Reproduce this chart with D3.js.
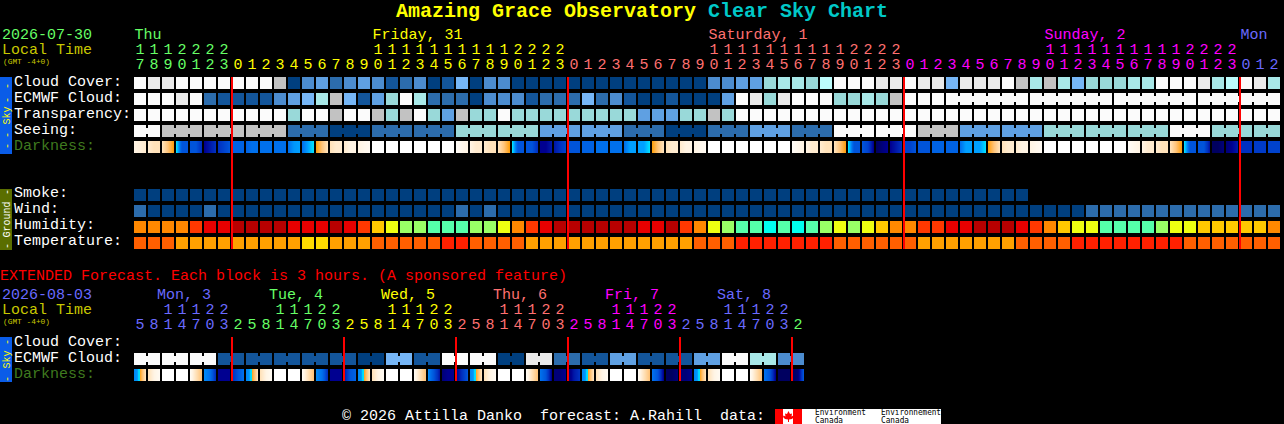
<!DOCTYPE html>
<html>
<head>
<meta charset="utf-8">
<script src="https://cdn.jsdelivr.net/npm/d3@7"></script>
<style>
  html, body { margin: 0; padding: 0; background: #000; overflow: hidden; }
  svg { display: block; }
  text { font-family: "Liberation Mono", monospace; font-size: 15px; white-space: pre; }
  .tile { shape-rendering: crispEdges; }
</style>
</head>
<body>
<script>
// hours across the top, 82 one hour columns then 48 three hour columns
const hours = [17,18,19,20,21,22,23,
  0,1,2,3,4,5,6,7,8,9,10,11,12,13,14,15,16,17,18,19,20,21,22,23,
  0,1,2,3,4,5,6,7,8,9,10,11,12,13,14,15,16,17,18,19,20,21,22,23,
  0,1,2,3,4,5,6,7,8,9,10,11,12,13,14,15,16,17,18,19,20,21,22,23,
  0,1,2];
const extHours = [5,8,11,14,17,20,23,
  2,5,8,11,14,17,20,23, 2,5,8,11,14,17,20,23, 2,5,8,11,14,17,20,23,
  2,5,8,11,14,17,20,23, 2,5,8,11,14,17,20,23, 2];
const dayLabels = ['Thu', 'Friday, 31', 'Saturday, 1', 'Sunday, 2', 'Mon'];
const dayStartCols = [0, 17, 41, 65, 79];
const dayBreakCols = [7, 31, 55, 79];
const extDayLabels = ['Mon, 3', 'Tue, 4', 'Wed, 5', 'Thu, 6', 'Fri, 7', 'Sat, 8'];
const extDayBreakCols = [0, 7, 15, 23, 31, 39, 47];
const extMidnightCols = [7, 15, 23, 31, 39, 47];
const dayColors = ['#66ff66', '#ffff00', '#ff7070', '#ff00ff', '#6a6aff'];
const extDayColors = ['#6a6aff', '#66ff66', '#ffff00', '#ff7070', '#ff00ff', '#6a6aff', '#66ff66'];

// cloud type rows use one 12 step colour key
const cloudKey = ['#003f7f', '#13559a', '#2c6cac', '#4c8ccf', '#5fa0e2', '#76b6f6',
  '#99d9d9', '#a8e8e8', '#bcfcfc', '#c2c2c2', '#eaeaea', '#fbfbfb'];
const humidityKey = ['#b80000', '#e80000', '#ff3800', '#ff8800', '#ffc800', '#eeff11', '#99ff66', '#55ffaa', '#00ffee'];
const temperatureKey = ['#ff2000', '#ff5f00', '#ffa000', '#ffdc00'];

const cloudCover = [11,10,10,11,11,11,11,11,11,11,9,0,3,4,2,3,4,3,1,2,3,0,1,5,0,3,3,
  0,0,0,0,0,0,0,0,0,0,0,0,0,0,3,3,4,4,6,7,7,6,8,11,11,11,10,10,11,10,10,5,10,10,10,11,
  9,7,9,7,5,6,6,6,7,7,11,11,11,10,7,8,11,10,7];
const ecmwfCloud = [11,11,11,10,11,2,1,1,1,1,3,4,5,7,9,5,1,4,6,11,7,2,2,2,0,3,3,3,1,2,2,2,5,2,3,1,
  0,0,1,0,0,0,4,11,10,6,10,11,11,11,6,6,7,6,9,
  11,11,11,11,11,11,11,11,11,11,11,11,11,11,11,11,11,11,11,11,11,11,11,11,11,11,11];
const transparency = [11,11,11,11,11,11,11,11,11,11,11,6,11,11,9,11,11,9,6,9,11,6,4,9,6,6,11,
  6,6,6,6,6,6,6,6,6,4,4,4,6,6,9,6,
  11,11,11,11,11,11,11,11,11,11,11,11,11,11,11,11,11,11,11,11,11,11,11,11,11,11,11,11,11,11,11,11,11,11,11,11,11,11,11];
const seeingBlocks = [11,9,9,9,2,0,2,2,6,6,4,4,2,0,2,4,2,11,11,9,4,4,6,6,6,11,6,6];
const seeingSizes = [2,3,3,3,3,3,3,3,3,3,3,3,3,3,3,3,3,3,3,3,3,3,3,3,3,3,3,2];
const ecmwfJoinSizes = [58,6,6,6,6];  // 58 is unjoined, see drawRow
const smoke = [0,0,0,0,0,0,0,0,0,0,0,0,0,0,0,0,0,0,0,0,0,0,0,0,0,0,0,0,0,0,0,0,
  0,0,0,0,0,0,0,0,0,0,0,0,0,0,0,0,0,0,0,0,0,0,0,0,0,0,0,0,0,0,0,0];
const wind = [2,0,0,0,0,2,0,0,0,0,0,0,0,0,0,0,0,0,0,0,0,0,0,2,0,2,0,0,0,0,0,0,0,0,0,0,0,0,0,0,
  0,0,0,0,0,0,0,0,0,0,0,0,0,0,0,0,0,0,0,0,0,0,0,0,0,0,0,0,
  2,2,2,2,2,2,2,2,2,2,2,2,2,2];
const humidity = [3,3,3,3,2,1,1,0,0,0,0,1,1,1,0,1,2,4,5,6,6,7,7,7,6,6,5,3,2,1,0,0,0,0,0,0,1,1,0,2,3,
  5,6,7,7,8,7,8,7,6,5,6,5,4,3,3,2,2,1,1,0,0,0,1,2,3,4,5,5,7,7,7,7,6,5,5,4,4,4,4,4,3];
const temperature = [1,1,1,2,2,2,2,2,2,2,2,2,3,3,2,2,2,1,1,1,1,1,0,0,1,1,1,1,2,2,2,2,2,2,2,2,2,2,2,2,
  1,1,1,0,0,0,0,0,0,0,1,1,1,1,1,1,2,2,2,2,2,2,2,1,1,1,1,0,0,0,0,0,0,0,0,1,1,1,1,1,1,1];
const extCloudBlocks = [11,11,11,1,1,1,1,1,0,5,1,11,11,0,10,2,1,4,1,1,4,11,7,3];

// darkness: values spread evenly across each tile
// 0 daylight, 4 deep twilight, 5 sun is down, 11 darkest
const darkness = [[1,1.2,1.5],[1.5,2,2],[2,3,4],[5,8,8],[8,8,9],[10,9.5,9],[9,8.5,8],
  [7.5,7.5,7.5],[7.5,7,7],[7,7,7],[7,7,7],[7,6.2,6],[7,6,5],
  [4,3,2],[2,1.5,1.5],[1.5,1,1],[1,.7,.5],[0,0,0],[0,0,0],[0,0,0],[0,0,0],[0,0,0],[0,0,0],
  [.3,.7,1],[1,1.5,1.5],[1.5,2,2],[2,3,4],[5,8,8],[8,8,9],[10,10,9.5],[9.5,9,8.5],
  [8,8,8],[7.5,7.5,7.5],[7,7,7],[7,7,7],[7,6,6],[6,6,5],
  [4,3,2],[2,1.5,1.5],[1.5,1,1],[1,.7,.5],[0,0,0],[0,0,0],[0,0,0],[0,0,0],[0,0,0],[0,0,0],
  [.3,.7,1],[1,1.5,1.5],[1.5,2,2],[2,3,4],[5,8,8],[8,8.5,10],[11,10.5,10],[10,9.5,9],
  [8.5,8.5,8],[8,8,8],[7.5,7.5,7.5],[7.5,7.5,7.5],[7,6,6],[6,6,5],
  [4,3,2],[2,1.5,1.5],[1.5,1,1],[1,.7,.5],[0,0,0],[0,0,0],[0,0,0],[0,0,0],[0,0,0],[0,0,0],
  [.3,.7,1],[1,1.5,1.5],[1.5,2,2],[2,3,4],[5,8,8],[8,8,9.5],[11,11,10.5],[10.5,10,9.5],
  [9,9,9],[8.7,8.7,8.7],[8.5,8.5,8.5]];
const sunrise3h = [6.5,6.2,3.9,3,2];
const extDarkness = [sunrise3h,[2,1,.5],[0,0,0],[0,0,0],[.5,2,3],[6.5,7,9],[10,10,10],[9,8,7],
  sunrise3h,[2,1,.5],[0,0,0],[0,0,0],[.5,2,3],[6.5,7,9],[10,10,10],[9.5,8,7.5],
  sunrise3h,[2,1,.5],[0,0,0],[0,0,0],[.5,2,3],[6.5,8,9.5],[10.5,10,10],[10,9,8],
  sunrise3h,[2,1,.5],[0,0,0],[0,0,0],[.5,2,3],[7,8,10],[10.5,10.5,10],[10.5,9.5,9],
  sunrise3h,[2,1,.5],[0,0,0],[0,0,0],[.5,2,3],[7,8,10],[11,11,10.5],[10.5,10.5,10],
  sunrise3h,[2,1,.5],[0,0,0],[0,0,0],[.5,2,3],[7,8,10],[11,11,11],[11,10.5,8]];

const svg = d3.select('body').append('svg').attr('width', 1284).attr('height', 424);

const bandMain = d3.scaleBand().domain(d3.range(hours.length)).range([134, 1280]).paddingInner(1 / 7);
const bandExt = d3.scaleBand().domain(d3.range(extHours.length)).range([134, 804]).paddingInner(1 / 7);
// whole pixels, the band scale can land a hair under them
const xMain = (i) => Math.round(bandMain(i));
const xExt = (i) => Math.round(bandExt(i));
const darkColor = d3.scaleLinear()
    .domain([0, 1, 2, 3, 4, 4.001, 5, 6, 7, 8, 9, 10, 11])
    .range(['#ffffff', '#fff4e4', '#ffe2ba', '#ffc47a', '#ffa010', '#00e0ff', '#00e0ff',
      '#00a0ff', '#0070ec', '#0054da', '#0030c0', '#000090', '#000060']);

function expand(values, sizes) {
  return values.flatMap((v, i) => d3.range(sizes[i]).map(() => v));
}

function text(str, x, y, color, opts) {
  const t = svg.append('text').attr('x', x).attr('y', y).attr('fill', color).text(str);
  Object.entries(opts || {}).forEach(([k, v]) => t.attr(k, v));
  return t;
}

// a row of tiles, sizes says which neighbours are joined by a neck
function drawRow(x, y, values, key, sizes) {
  const g = svg.append('g').attr('class', 'tile');
  g.selectAll('rect').data(values).join('rect')
      .attr('x', (d, i) => x(i)).attr('y', y)
      .attr('width', 12).attr('height', 12)
      .attr('fill', (d) => key[d]);
  if (!sizes) return;
  let start = 0;
  sizes.forEach((size) => {
    if (size !== 58) {
      d3.range(start, start + size - 1).forEach((i) => {
        g.append('rect').attr('x', x(i) + 12).attr('y', y + 3)
            .attr('width', 2).attr('height', 6).attr('fill', key[values[i]]);
      });
    }
    start += size;
  });
}

function drawDarkness(x, y, values) {
  const g = svg.append('g').attr('class', 'tile');
  values.forEach((stops, i) => {
    const acrossTile = d3.scaleLinear()
        .domain(stops.map((s, k) => k * 11 / (stops.length - 1)))
        .range(stops);
    d3.range(12).forEach((px) => {
      g.append('rect').attr('x', x(i) + px).attr('y', y)
          .attr('width', 1).attr('height', 12)
          .attr('fill', darkColor(acrossTile(px)));
    });
  });
}

function drawHours(x, list, yTens, yOnes, colorOf) {
  list.forEach((h, i) => {
    const cx = x(i) + 6;
    if (h >= 10) text(Math.floor(h / 10), cx, yTens, colorOf(i), {'text-anchor': 'middle'});
    text(h % 10, cx, yOnes, colorOf(i), {'text-anchor': 'middle'});
  });
}

function sideBar(y0, y1, fill, label, color, dashYs) {
  svg.append('rect').attr('class', 'tile').attr('x', 0).attr('y', y0)
      .attr('width', 12).attr('height', y1 - y0).attr('fill', fill);
  const c = (y0 + y1) / 2;
  svg.append('text').attr('transform', `translate(9.5,${c}) rotate(-90)`)
      .attr('text-anchor', 'middle').attr('fill', color)
      .style('font-size', '10px').text(label);
  dashYs.forEach((dy) => {
    svg.append('text').attr('transform', `translate(9.5,${dy}) rotate(-90)`)
        .attr('text-anchor', 'middle').attr('fill', color)
        .style('font-size', '10px').text('-');
  });
}

// title
text('Amazing Grace Observatory', 396, 17, '#ffff00',
    {'font-weight': 'bold', 'textLength': 300, 'lengthAdjust': 'spacingAndGlyphs'}).style('font-size', '21px');
text('Clear Sky Chart', 708, 17, '#00c8c8',
    {'font-weight': 'bold', 'textLength': 180, 'lengthAdjust': 'spacingAndGlyphs'}).style('font-size', '21px');

// header of the main chart
text('2026-07-30', 2, 39, '#66ff66');
text('Local Time', 2, 54, '#c8c800');
text('(GMT -4+0)', 3, 64, '#c8c800', {'textLength': 47, 'lengthAdjust': 'spacingAndGlyphs'}).style('font-size', '7.5px');
dayLabels.forEach((d, i) => text(d, xMain(dayStartCols[i]) + 0.5, 39, dayColors[i]));
drawHours(xMain, hours, 54, 69, (i) => dayColors[d3.bisectRight(dayBreakCols, i)]);

// main rows
const skyLabels = ['Cloud Cover:', 'ECMWF Cloud:', 'Transparency:', 'Seeing:', 'Darkness:'];
skyLabels.forEach((l, i) => text(l, 14, 86 + 16 * i, i === 4 ? '#3f7a1f' : '#ffffff'));
const groundLabels = ['Smoke:', 'Wind:', 'Humidity:', 'Temperature:'];
groundLabels.forEach((l, i) => text(l, 14, 197 + 16 * i, '#ffffff'));

drawRow(xMain, 77, cloudCover, cloudKey);
drawRow(xMain, 93, ecmwfCloud, cloudKey, ecmwfJoinSizes);
drawRow(xMain, 109, transparency, cloudKey);
drawRow(xMain, 125, expand(seeingBlocks, seeingSizes), cloudKey, seeingSizes);
drawDarkness(xMain, 141, darkness);
drawRow(xMain, 189, smoke, cloudKey);
drawRow(xMain, 205, wind, cloudKey);
drawRow(xMain, 221, humidity, humidityKey);
drawRow(xMain, 237, temperature, temperatureKey);

sideBar(77, 154, '#0a5ce8', 'Sky', '#ffff00', [86, 100, 135, 146]);
sideBar(189, 250, '#5a6e00', 'Ground', '#ffffff', [192, 246]);

// midnight lines
svg.append('g').attr('class', 'tile').selectAll('rect').data(dayBreakCols).join('rect')
    .attr('x', (d) => xMain(d) - 1).attr('y', 77)
    .attr('width', 2).attr('height', 172).attr('fill', '#ff0000');

// extended forecast
text('EXTENDED Forecast. Each block is 3 hours. (A sponsored feature)', 0, 280, '#ff0000');
text('2026-08-03', 2, 299, '#6a6aff');
text('Local Time', 2, 314, '#c8c800');
text('(GMT -4+0)', 3, 324, '#c8c800', {'textLength': 47, 'lengthAdjust': 'spacingAndGlyphs'}).style('font-size', '7.5px');
extDayLabels.forEach((d, i) => text(d, xExt(1) + 9 + 112 * i, 299, extDayColors[i]));
drawHours(xExt, extHours, 314, 329, (i) => extDayColors[d3.bisectRight(extDayBreakCols, i) - 1]);

['Cloud Cover:', 'ECMWF Cloud:', 'Darkness:'].forEach((l, i) =>
  text(l, 14, 346 + 16 * i, i === 2 ? '#3f7a1f' : '#ffffff'));
drawRow(xExt, 353, expand(extCloudBlocks, extCloudBlocks.map(() => 2)), cloudKey, extCloudBlocks.map(() => 2));
drawDarkness(xExt, 369, extDarkness);
sideBar(337, 382, '#0a5ce8', 'Sky', '#ffff00', [342, 379]);

svg.append('g').attr('class', 'tile').selectAll('rect').data(extMidnightCols).join('rect')
    .attr('x', (d) => xExt(d) - 1).attr('y', 337)
    .attr('width', 2).attr('height', 44).attr('fill', '#ff0000');

// footer
text('\u00a9 2026 Attilla Danko  forecast: A.Rahill  data:', 342, 420, '#ffffff');
const logo = svg.append('g').attr('transform', 'translate(775,409)');
logo.append('rect').attr('class', 'tile').attr('width', 166).attr('height', 15).attr('fill', '#ffffff');
logo.append('rect').attr('class', 'tile').attr('width', 8).attr('height', 15).attr('fill', '#ff0000');
logo.append('rect').attr('class', 'tile').attr('x', 18).attr('width', 9).attr('height', 15).attr('fill', '#ff0000');
logo.append('path').attr('fill', '#ff0000')
    .attr('d', 'M13.5 2 L15 5 L17 4.5 L16.5 7.5 L18.5 6.5 L19 8 L17 10 L14 10.5 L14 13 L13 13 L13 10.5 L10 10 L8 8 L8.5 6.5 L10.5 7.5 L10 4.5 L12 5 Z');
[['Environment', 40, 6, 51], ['Canada', 40, 14, 28], ['Environnement', 106, 6, 60], ['Canada', 106, 14, 28]].forEach(([s, x, y, w]) => {
  logo.append('text').attr('x', x).attr('y', y).attr('fill', '#000000')
      .attr('textLength', w).attr('lengthAdjust', 'spacingAndGlyphs')
      .style('font-family', '"DejaVu Sans Mono", monospace').style('font-size', '8px').text(s);
});
</script>
</body>
</html>
